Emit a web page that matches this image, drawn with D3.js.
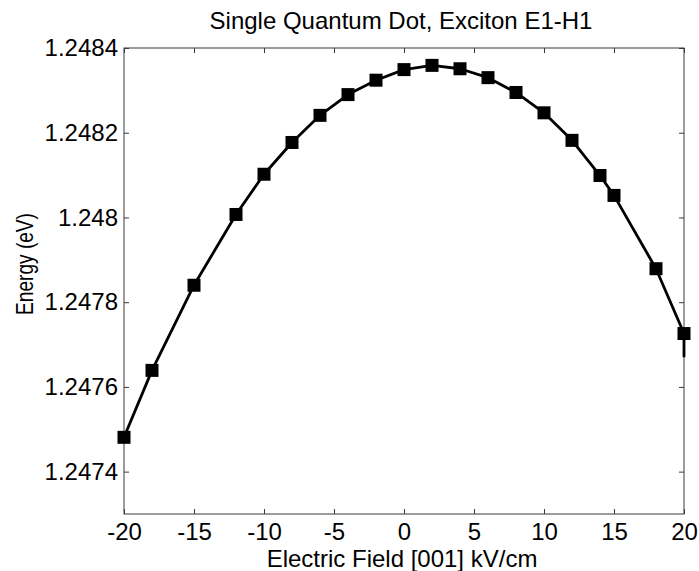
<!DOCTYPE html>
<html>
<head>
<meta charset="utf-8">
<script src="https://d3js.org/d3.v7.min.js"></script>
<style>
  body { margin: 0; background: #fff; }
  text { font-family: "Liberation Sans", Arial, sans-serif; fill: #000; }
</style>
</head>
<body>
<div id="chart"></div>
<script>
// field values (kV/cm) and exciton energies (eV)
const field = [-20, -18, -15, -12, -10, -8, -6, -4, -2, 0, 2, 4, 6, 8, 10, 12, 14, 15, 18, 20];
const energy = [1.247481, 1.247639, 1.247840, 1.248007, 1.248102, 1.248177, 1.248241, 1.248290,
    1.248324, 1.248349, 1.248359, 1.248351, 1.248330, 1.248295, 1.248247, 1.248182,
    1.248099, 1.248052, 1.247879, 1.247726];
// the curve runs a little past the last marker at the right edge
const tailField = [20];
const tailEnergy = [1.247670];

const xTicks = [-20, -15, -10, -5, 0, 5, 10, 15, 20];
const yTicks = [1.2474, 1.2476, 1.2478, 1.248, 1.2482, 1.2484];

const config = {
    width: 699,
    height: 571,
    fontSize: 24,
    padding: { left: 124, top: 48, right: 15, bottom: 57 }
};

const svg = d3.select('#chart')
    .append('svg')
    .attr('width', config.width)
    .attr('height', config.height);

const x = d3.scaleLinear()
    .domain([-20, 20])
    .range([config.padding.left, config.width - config.padding.right]);

const y = d3.scaleLinear()
    .domain([1.2473, 1.2484])
    .range([config.height - config.padding.bottom, config.padding.top]);

const fmt = d => String(+d.toFixed(4));
const axisColor = '#3a3a3a';

// frame
svg.append('rect')
    .attr('x', x(-20))
    .attr('y', y(1.2484))
    .attr('width', x(20) - x(-20))
    .attr('height', y(1.2473) - y(1.2484))
    .attr('fill', 'none')
    .attr('stroke', axisColor)
    .attr('stroke-width', 1);

// bottom / left axes with inward ticks, mirrored on top / right
const axisBottomG = svg.append('g')
    .attr('transform', `translate(0, ${y(1.2473)})`)
    .call(d3.axisBottom(x).tickValues(xTicks).tickSizeInner(-5).tickSizeOuter(0).tickPadding(9).tickFormat(d => d));
const axisTopG = svg.append('g')
    .attr('transform', `translate(0, ${y(1.2484)})`)
    .call(d3.axisTop(x).tickValues(xTicks).tickSizeInner(-5).tickSizeOuter(0).tickFormat(''));
const axisLeftG = svg.append('g')
    .attr('transform', `translate(${x(-20)}, 0)`)
    .call(d3.axisLeft(y).tickValues(yTicks).tickSizeInner(-5).tickSizeOuter(0).tickPadding(6).tickFormat(fmt));
const axisRightG = svg.append('g')
    .attr('transform', `translate(${x(20)}, 0)`)
    .call(d3.axisRight(y).tickValues(yTicks).tickSizeInner(-5).tickSizeOuter(0).tickFormat(''));

[axisBottomG, axisTopG, axisLeftG, axisRightG].forEach(g => {
    g.select('.domain').remove();
    g.selectAll('line').attr('stroke', axisColor);
    g.selectAll('text')
        .attr('font-size', config.fontSize)
        .attr('font-family', '"Liberation Sans", Arial, sans-serif')
        .attr('fill', '#000');
});

// data line
const points = field.map((f, i) => ({ f: f, e: energy[i] }));
const linePts = points.concat(tailField.map((f, i) => ({ f: f, e: tailEnergy[i] })));

svg.append('path')
    .datum(linePts)
    .attr('fill', 'none')
    .attr('stroke', '#000')
    .attr('stroke-width', 2.8)
    .attr('stroke-linejoin', 'round')
    .attr('d', d3.line().x(d => x(d.f)).y(d => y(d.e)));

const ms = 13;
svg.append('g')
    .selectAll('rect')
    .data(points)
    .enter()
    .append('rect')
    .attr('x', d => x(d.f) - ms / 2)
    .attr('y', d => y(d.e) - ms / 2)
    .attr('width', ms)
    .attr('height', ms)
    .attr('fill', '#000');

// title and labels
svg.append('text')
    .attr('x', 401)
    .attr('y', 29)
    .attr('text-anchor', 'middle')
    .attr('font-size', config.fontSize)
    .text('Single Quantum Dot, Exciton E1-H1');

svg.append('text')
    .attr('x', 402)
    .attr('y', 567)
    .attr('text-anchor', 'middle')
    .attr('font-size', config.fontSize)
    .text('Electric Field [001] kV/cm');

svg.append('text')
    .attr('transform', `translate(33, 264) rotate(-90)`)
    .attr('text-anchor', 'middle')
    .attr('font-size', config.fontSize)
    .attr('textLength', 102)
    .attr('lengthAdjust', 'spacingAndGlyphs')
    .text('Energy (eV)');
</script>
</body>
</html>
